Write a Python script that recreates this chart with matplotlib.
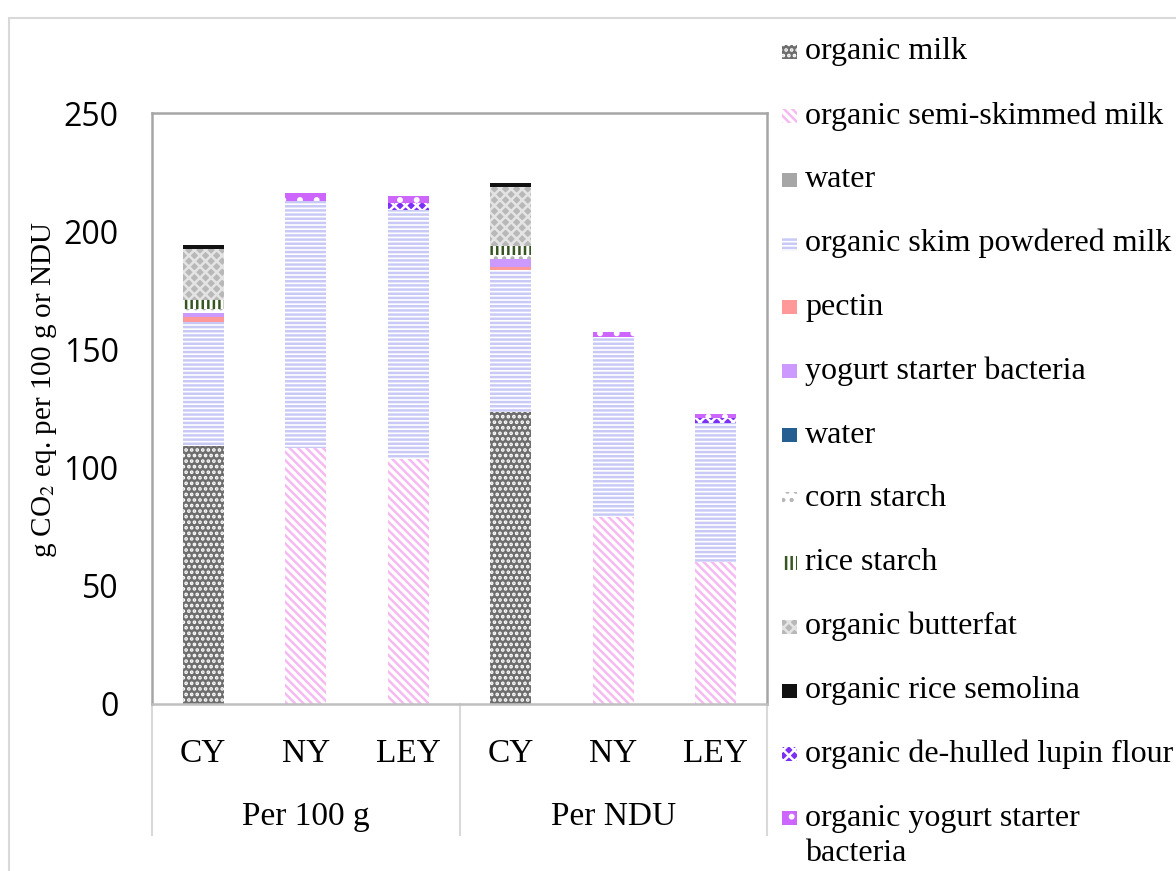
import matplotlib
matplotlib.use('Agg')
import matplotlib.pyplot as plt
from matplotlib.patches import Rectangle
import numpy as np

plt.rcParams['mathtext.fontset'] = 'stix'
plt.rcParams['hatch.linewidth'] = 1.8

# data (g CO2 eq.)
categories = ['CY', 'NY', 'LEY', 'CY', 'NY', 'LEY']
groups = ['Per 100 g', 'Per NDU']

organic_milk = [109.0, 0, 0, 123.7, 0, 0]
semi_skimmed_milk = [0, 108.1, 103.5, 0, 79.0, 60.0]
water_grey = [0, 0, 0, 0, 0, 0]
skim_powdered_milk = [52.8, 104.7, 105.6, 60.0, 76.4, 58.7]
pectin = [1.7, 0, 0, 1.3, 0, 0]
starter_bacteria = [2.1, 0, 0, 3.4, 0, 0]
water_blue = [0, 0, 0, 0, 0, 0]
corn_starch = [1.3, 0, 0, 1.7, 0, 0]
rice_starch = [4.2, 0, 0, 3.8, 0, 0]
butterfat = [21.5, 0, 0, 25.0, 0, 0]
rice_semolina = [1.7, 0, 0, 1.7, 0, 0]
lupin_flour = [0, 0, 3.0, 0, 0, 2.1]
organic_starter = [0, 3.4, 3.0, 0, 2.1, 1.7]

series = [
    ('organic milk', organic_milk, '#6e6e6e', '...', 'white'),
    ('organic semi-skimmed milk', semi_skimmed_milk, 'white', '\\\\\\\\', '#f6b9f2'),
    ('water', water_grey, '#a6a6a6', None, '#a6a6a6'),
    ('organic skim powdered milk', skim_powdered_milk, 'white', '----', '#c9c9f7'),
    ('pectin', pectin, '#ff9999', None, '#ff9999'),
    ('yogurt starter bacteria', starter_bacteria, '#cc99ff', None, '#cc99ff'),
    ('water', water_blue, '#255e91', None, '#255e91'),
    ('corn starch', corn_starch, 'white', '..', '#b5b5b5'),
    ('rice starch', rice_starch, 'white', '|||', '#375623'),
    ('organic butterfat', butterfat, '#b8b8b8', 'xxx', '#e4e4e4'),
    ('organic rice semolina', rice_semolina, '#111111', None, '#111111'),
    ('organic de-hulled lupin flour', lupin_flour, '#7b2ff7', 'xxx', 'white'),
    ('organic yogurt starter\nbacteria', organic_starter, '#cc66ff', '.', 'white'),
]

W, H = 1176, 871
fig = plt.figure(figsize=(W / 100, H / 100), dpi=100)
ax = fig.add_axes([152 / W, 1 - 704 / H, (767 - 152) / W, (704 - 113) / H])

x = np.arange(len(categories))
bottom = np.zeros(len(categories))
for label, vals, face, hatch, hcol in series:
    ax.bar(x, vals, 0.40, bottom=bottom, color=face, hatch=hatch,
           edgecolor=hcol, linewidth=0)
    bottom += np.array(vals)

ax.set_xlim(-0.5, 5.5)
ax.set_ylim(0, 250)
ax.set_yticks(np.arange(0, 251, 50))
ax.tick_params(axis='y', length=0, pad=24, labelsize=23)
for t in ax.get_yticklabels():
    t.set_fontfamily('Open Sans')
ax.set_xticks(x)
ax.set_xticklabels(categories, fontsize=24, fontfamily='Liberation Serif')
ax.tick_params(axis='x', length=0, pad=25)

for s in ['left', 'top', 'right']:
    ax.spines[s].set_color('#a6a6a6')
    ax.spines[s].set_linewidth(1.8)
ax.spines['bottom'].set_color('#bfbfbf')
ax.spines['bottom'].set_linewidth(1.8)

# category separators below the axis
for xs in [0, 0.5, 1]:
    ax.plot([xs, xs], [0, -0.222], transform=ax.transAxes, color='#d9d9d9',
            lw=1.5, clip_on=False)
for i, g in enumerate(groups):
    ax.text(1 + 3 * i, -0.19, g, transform=ax.get_xaxis_transform(),
            ha='center', va='center', fontsize=24, fontfamily='Liberation Serif')

fig.text(45 / W, 1 - 390 / H, r'g CO$_2$ eq. per 100 g or NDU', rotation=90,
         ha='center', va='center', fontsize=21, fontfamily='Liberation Serif')

# legend
for i, (label, vals, face, hatch, hcol) in enumerate(series):
    yc = 52 + i * 63.85
    fig.add_artist(Rectangle((782 / W, 1 - (yc + 7) / H), 15 / W, 14 / H,
                             transform=fig.transFigure, facecolor=face,
                             hatch=hatch, edgecolor=hcol, linewidth=0))
    fig.text(805 / W, 1 - yc / H, label.split('\n')[0], ha='left', va='center',
             fontsize=23, fontfamily='Liberation Serif')
    if '\n' in label:
        fig.text(805 / W, 1 - (yc + 35) / H, label.split('\n')[1], ha='left',
                 va='center', fontsize=23, fontfamily='Liberation Serif')

# outer chart border
fig.add_artist(Rectangle((9 / W, -0.1), 1.2, 1.1 - 18 / H, transform=fig.transFigure,
                         fill=False, edgecolor='#d9d9d9', linewidth=1.5))

fig.savefig('out.png', dpi=100)
